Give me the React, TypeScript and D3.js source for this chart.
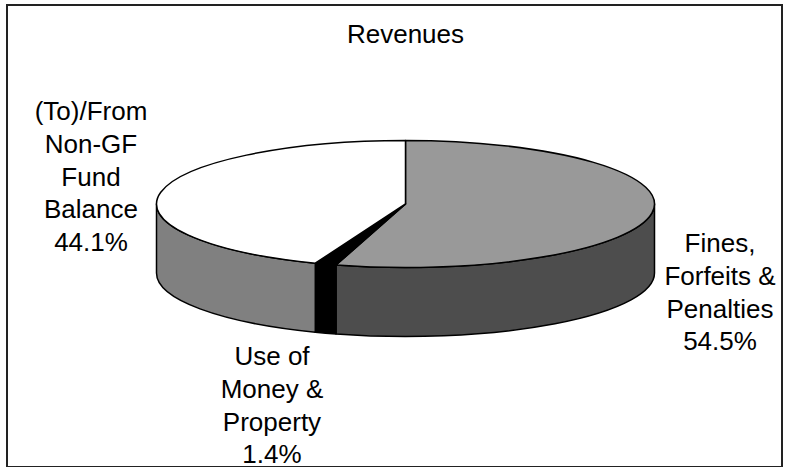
import React from "react";
import * as d3 from "d3";

const categories = ["Fines, Forfeits & Penalties", "Use of Money & Property", "(To)/From Non-GF Fund Balance"];
const values = [54.5, 1.4, 44.1];
const labelLines = [
  ["Fines,", "Forfeits &", "Penalties", "54.5%"],
  ["Use of", "Money &", "Property", "1.4%"],
  ["(To)/From", "Non-GF", "Fund", "Balance", "44.1%"],
];
const title = "Revenues";

const topColors = ["#999999", "#000000", "#ffffff"];
const sideColors = ["#4d4d4d", "#000000", "#808080"];
// label anchor layout (center x, first baseline y)
const labelLayout = [
  { x: 720, y: 252 },
  { x: 272, y: 365 },
  { x: 91, y: 120 },
];

const W = 796;
const H = 467;
const cx = 405.5;
const cy = 204;
const rx = 249;
const ry = 63.5;
const depth = 69;
const lineH = 32.8;

function pt(a: number, dy = 0): [number, number] {
  return [cx + rx * Math.sin(a), cy - ry * Math.cos(a) + dy];
}

export default function App() {
  const pie = d3.pie<number>().sort(null).startAngle(0).endAngle(2 * Math.PI);
  const arcs = pie(values);

  const tops = arcs.map((a, i) => {
    const p0 = pt(a.startAngle);
    const p1 = pt(a.endAngle);
    const large = a.endAngle - a.startAngle > Math.PI ? 1 : 0;
    const d = `M${cx},${cy}L${p0[0]},${p0[1]}A${rx},${ry} 0 ${large} 1 ${p1[0]},${p1[1]}Z`;
    return <path key={"t" + i} d={d} fill={topColors[i]} stroke="#000" strokeWidth={1.5} strokeLinejoin="round" />;
  });

  const sides = arcs.map((a, i) => {
    const s = Math.max(a.startAngle, Math.PI / 2);
    const e = Math.min(a.endAngle, (3 * Math.PI) / 2);
    if (e <= s) return null;
    const p0 = pt(s);
    const p1 = pt(e);
    const q1 = pt(e, depth);
    const q0 = pt(s, depth);
    const d = `M${p0[0]},${p0[1]}A${rx},${ry} 0 0 1 ${p1[0]},${p1[1]}L${q1[0]},${q1[1]}A${rx},${ry} 0 0 0 ${q0[0]},${q0[1]}Z`;
    return <path key={"s" + i} d={d} fill={sideColors[i]} stroke="#000" strokeWidth={1.5} strokeLinejoin="round" />;
  });

  return (
    <svg
      width={W}
      height={H}
      style={{ position: "absolute", left: 0, top: 0, background: "#fff" }}
      fontFamily="'Liberation Sans', Arial, sans-serif"
    >
      <rect x={7} y={5} width={775} height={462} fill="#fff" stroke="#222" strokeWidth={2} />
      <text x={405.5} y={43} textAnchor="middle" fontSize={26} fill="#000">
        {title}
      </text>
      {sides}
      {tops}
      {labelLines.map((lines, i) => (
        <text key={"l" + i} textAnchor="middle" fontSize={26} fill="#000" aria-label={categories[i]}>
          {lines.map((ln, j) => (
            <tspan key={j} x={labelLayout[i].x} y={labelLayout[i].y + j * lineH}>
              {ln}
            </tspan>
          ))}
        </text>
      ))}
    </svg>
  );
}
